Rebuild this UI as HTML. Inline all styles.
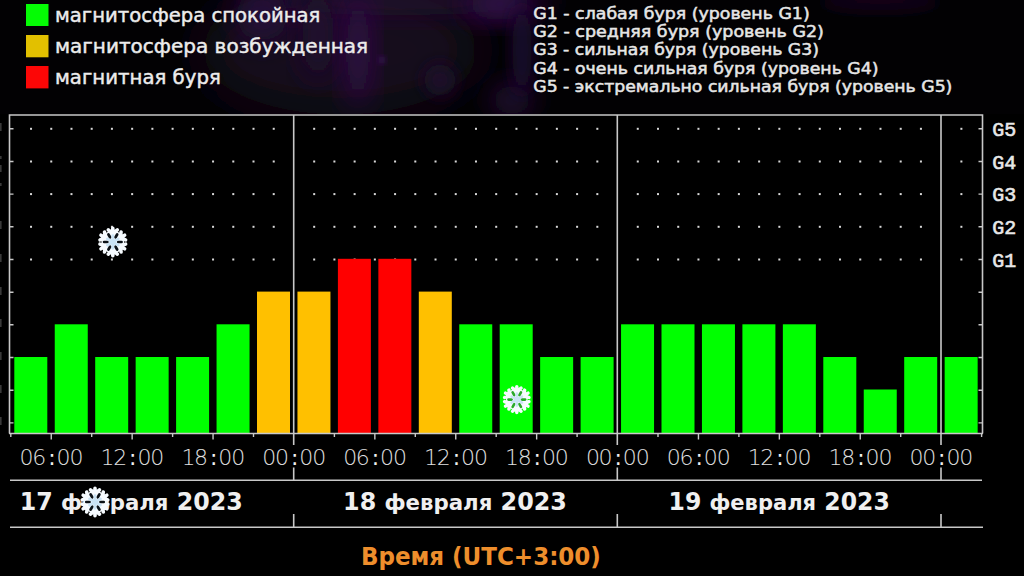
<!DOCTYPE html>
<html><head><meta charset="utf-8"><title>Магнитные бури</title>
<style>
html,body{margin:0;padding:0;background:#000;}
#wrap{position:relative;width:1024px;height:576px;overflow:hidden;background:#000;}
#bg{position:absolute;left:0;top:0;width:1024px;height:114px;background:#020103;}
svg{position:absolute;left:0;top:0;}
.lg{font-family:"DejaVu Sans",sans-serif;font-size:19.5px;fill:#ececec;stroke:#ececec;stroke-width:0.45px;}
.gs{font-family:"DejaVu Sans",sans-serif;font-size:15.6px;fill:#e6e6e6;stroke:#e6e6e6;stroke-width:0.5px;}
.tm{font-family:"DejaVu Sans",sans-serif;font-weight:200;font-size:22px;fill:#e0e0e0;text-anchor:middle;}
.cl{font-weight:normal;fill:#f0f0f0;}
.gl{font-family:"Liberation Mono",monospace;font-size:20px;fill:#e8e8e8;stroke:#e8e8e8;stroke-width:0.6px;}
.dt{font-family:"DejaVu Sans Condensed","DejaVu Sans",sans-serif;font-weight:bold;font-size:24.4px;fill:#f0f0f0;}
.dl{font-size:21.8px;}
.ut{font-family:"DejaVu Sans Condensed","DejaVu Sans",sans-serif;font-weight:bold;font-size:24.6px;fill:#ee8e2c;}
</style></head><body>
<div id="wrap">
<div id="bg"></div>
<svg id="neb" width="1024" height="114" viewBox="0 0 1024 114">
<defs>
<filter id="b8" x="-50%" y="-50%" width="200%" height="200%"><feGaussianBlur stdDeviation="8"/></filter>
<filter id="b14" x="-50%" y="-50%" width="200%" height="200%"><feGaussianBlur stdDeviation="14"/></filter>
<filter id="b25" x="-50%" y="-50%" width="200%" height="200%"><feGaussianBlur stdDeviation="25"/></filter>
<filter id="b3" x="-50%" y="-50%" width="200%" height="200%"><feGaussianBlur stdDeviation="3"/></filter>
</defs>
<ellipse cx="340" cy="50" rx="140" ry="65" fill="#16071f" filter="url(#b25)"/>
<ellipse cx="400" cy="2" rx="160" ry="14" fill="#22092f" filter="url(#b14)"/>
<ellipse cx="262" cy="15" rx="26" ry="26" fill="#280a3a" filter="url(#b14)"/>
<ellipse cx="318" cy="35" rx="16" ry="45" fill="#200830" filter="url(#b14)"/>
<ellipse cx="358" cy="50" rx="13" ry="58" fill="#300b48" filter="url(#b14)"/>
<ellipse cx="440" cy="80" rx="16" ry="16" fill="#1c0829" filter="url(#b8)"/>
<ellipse cx="500" cy="4" rx="34" ry="16" fill="#360e4e" filter="url(#b14)"/>
<ellipse cx="512" cy="100" rx="20" ry="16" fill="#2a0a3e" filter="url(#b14)"/>
<ellipse cx="522" cy="50" rx="10" ry="45" fill="#1e0730" filter="url(#b8)"/>
<ellipse cx="880" cy="0" rx="60" ry="10" fill="#16061f" filter="url(#b8)"/>
<circle cx="382" cy="60" r="3" fill="#44186a" filter="url(#b3)"/>
</svg>
<svg width="1024" height="576" viewBox="0 0 1024 576">
<rect x="26" y="4" width="22.5" height="22" fill="#04fc04"/>
<rect x="26" y="35" width="22.5" height="22.3" fill="#e2c000"/>
<rect x="26" y="66" width="22.5" height="22.4" fill="#fc0606"/>
<text id="L1" x="55.00" y="22.30" class="lg" textLength="265.35" lengthAdjust="spacingAndGlyphs">магнитосфера спокойная</text>
<text id="L2" x="55.00" y="53.10" class="lg" textLength="313.12" lengthAdjust="spacingAndGlyphs">магнитосфера возбужденная</text>
<text id="L3" x="55.00" y="84.20" class="lg" textLength="165.80" lengthAdjust="spacingAndGlyphs">магнитная буря</text>
<text id="G1" x="533.30" y="18.60" class="gs" textLength="276.40" lengthAdjust="spacingAndGlyphs">G1 - слабая буря (уровень G1)</text>
<text id="G2" x="533.30" y="37.10" class="gs" textLength="290.56" lengthAdjust="spacingAndGlyphs">G2 - средняя буря (уровень G2)</text>
<text id="G3" x="533.30" y="55.30" class="gs" textLength="285.55" lengthAdjust="spacingAndGlyphs">G3 - сильная буря (уровень G3)</text>
<text id="G4" x="533.30" y="73.80" class="gs" textLength="345.25" lengthAdjust="spacingAndGlyphs">G4 - очень сильная буря (уровень G4)</text>
<text id="G5" x="533.30" y="91.80" class="gs" textLength="419.04" lengthAdjust="spacingAndGlyphs">G5 - экстремально сильная буря (уровень G5)</text>
<rect x="8" y="114" width="976" height="320" fill="#000"/>
<rect x="30.03" y="127.80" width="2" height="2" fill="#d8d8d8"/><rect x="50.25" y="127.80" width="2" height="2" fill="#d8d8d8"/><rect x="70.48" y="127.80" width="2" height="2" fill="#d8d8d8"/><rect x="90.70" y="127.80" width="2" height="2" fill="#d8d8d8"/><rect x="110.92" y="127.80" width="2" height="2" fill="#d8d8d8"/><rect x="131.15" y="127.80" width="2" height="2" fill="#d8d8d8"/><rect x="151.38" y="127.80" width="2" height="2" fill="#d8d8d8"/><rect x="171.60" y="127.80" width="2" height="2" fill="#d8d8d8"/><rect x="191.83" y="127.80" width="2" height="2" fill="#d8d8d8"/><rect x="212.05" y="127.80" width="2" height="2" fill="#d8d8d8"/><rect x="232.28" y="127.80" width="2" height="2" fill="#d8d8d8"/><rect x="252.50" y="127.80" width="2" height="2" fill="#d8d8d8"/><rect x="272.73" y="127.80" width="2" height="2" fill="#d8d8d8"/><rect x="313.18" y="127.80" width="2" height="2" fill="#d8d8d8"/><rect x="333.40" y="127.80" width="2" height="2" fill="#d8d8d8"/><rect x="353.63" y="127.80" width="2" height="2" fill="#d8d8d8"/><rect x="373.85" y="127.80" width="2" height="2" fill="#d8d8d8"/><rect x="394.08" y="127.80" width="2" height="2" fill="#d8d8d8"/><rect x="414.30" y="127.80" width="2" height="2" fill="#d8d8d8"/><rect x="434.53" y="127.80" width="2" height="2" fill="#d8d8d8"/><rect x="454.75" y="127.80" width="2" height="2" fill="#d8d8d8"/><rect x="474.98" y="127.80" width="2" height="2" fill="#d8d8d8"/><rect x="495.20" y="127.80" width="2" height="2" fill="#d8d8d8"/><rect x="515.43" y="127.80" width="2" height="2" fill="#d8d8d8"/><rect x="535.65" y="127.80" width="2" height="2" fill="#d8d8d8"/><rect x="555.88" y="127.80" width="2" height="2" fill="#d8d8d8"/><rect x="576.10" y="127.80" width="2" height="2" fill="#d8d8d8"/><rect x="596.33" y="127.80" width="2" height="2" fill="#d8d8d8"/><rect x="636.77" y="127.80" width="2" height="2" fill="#d8d8d8"/><rect x="657.00" y="127.80" width="2" height="2" fill="#d8d8d8"/><rect x="677.23" y="127.80" width="2" height="2" fill="#d8d8d8"/><rect x="697.45" y="127.80" width="2" height="2" fill="#d8d8d8"/><rect x="717.67" y="127.80" width="2" height="2" fill="#d8d8d8"/><rect x="737.90" y="127.80" width="2" height="2" fill="#d8d8d8"/><rect x="758.12" y="127.80" width="2" height="2" fill="#d8d8d8"/><rect x="778.35" y="127.80" width="2" height="2" fill="#d8d8d8"/><rect x="798.58" y="127.80" width="2" height="2" fill="#d8d8d8"/><rect x="818.80" y="127.80" width="2" height="2" fill="#d8d8d8"/><rect x="839.02" y="127.80" width="2" height="2" fill="#d8d8d8"/><rect x="859.25" y="127.80" width="2" height="2" fill="#d8d8d8"/><rect x="879.48" y="127.80" width="2" height="2" fill="#d8d8d8"/><rect x="899.70" y="127.80" width="2" height="2" fill="#d8d8d8"/><rect x="919.93" y="127.80" width="2" height="2" fill="#d8d8d8"/><rect x="960.38" y="127.80" width="2" height="2" fill="#d8d8d8"/><rect x="30.03" y="160.50" width="2" height="2" fill="#d8d8d8"/><rect x="50.25" y="160.50" width="2" height="2" fill="#d8d8d8"/><rect x="70.48" y="160.50" width="2" height="2" fill="#d8d8d8"/><rect x="90.70" y="160.50" width="2" height="2" fill="#d8d8d8"/><rect x="110.92" y="160.50" width="2" height="2" fill="#d8d8d8"/><rect x="131.15" y="160.50" width="2" height="2" fill="#d8d8d8"/><rect x="151.38" y="160.50" width="2" height="2" fill="#d8d8d8"/><rect x="171.60" y="160.50" width="2" height="2" fill="#d8d8d8"/><rect x="191.83" y="160.50" width="2" height="2" fill="#d8d8d8"/><rect x="212.05" y="160.50" width="2" height="2" fill="#d8d8d8"/><rect x="232.28" y="160.50" width="2" height="2" fill="#d8d8d8"/><rect x="252.50" y="160.50" width="2" height="2" fill="#d8d8d8"/><rect x="272.73" y="160.50" width="2" height="2" fill="#d8d8d8"/><rect x="313.18" y="160.50" width="2" height="2" fill="#d8d8d8"/><rect x="333.40" y="160.50" width="2" height="2" fill="#d8d8d8"/><rect x="353.63" y="160.50" width="2" height="2" fill="#d8d8d8"/><rect x="373.85" y="160.50" width="2" height="2" fill="#d8d8d8"/><rect x="394.08" y="160.50" width="2" height="2" fill="#d8d8d8"/><rect x="414.30" y="160.50" width="2" height="2" fill="#d8d8d8"/><rect x="434.53" y="160.50" width="2" height="2" fill="#d8d8d8"/><rect x="454.75" y="160.50" width="2" height="2" fill="#d8d8d8"/><rect x="474.98" y="160.50" width="2" height="2" fill="#d8d8d8"/><rect x="495.20" y="160.50" width="2" height="2" fill="#d8d8d8"/><rect x="515.43" y="160.50" width="2" height="2" fill="#d8d8d8"/><rect x="535.65" y="160.50" width="2" height="2" fill="#d8d8d8"/><rect x="555.88" y="160.50" width="2" height="2" fill="#d8d8d8"/><rect x="576.10" y="160.50" width="2" height="2" fill="#d8d8d8"/><rect x="596.33" y="160.50" width="2" height="2" fill="#d8d8d8"/><rect x="636.77" y="160.50" width="2" height="2" fill="#d8d8d8"/><rect x="657.00" y="160.50" width="2" height="2" fill="#d8d8d8"/><rect x="677.23" y="160.50" width="2" height="2" fill="#d8d8d8"/><rect x="697.45" y="160.50" width="2" height="2" fill="#d8d8d8"/><rect x="717.67" y="160.50" width="2" height="2" fill="#d8d8d8"/><rect x="737.90" y="160.50" width="2" height="2" fill="#d8d8d8"/><rect x="758.12" y="160.50" width="2" height="2" fill="#d8d8d8"/><rect x="778.35" y="160.50" width="2" height="2" fill="#d8d8d8"/><rect x="798.58" y="160.50" width="2" height="2" fill="#d8d8d8"/><rect x="818.80" y="160.50" width="2" height="2" fill="#d8d8d8"/><rect x="839.02" y="160.50" width="2" height="2" fill="#d8d8d8"/><rect x="859.25" y="160.50" width="2" height="2" fill="#d8d8d8"/><rect x="879.48" y="160.50" width="2" height="2" fill="#d8d8d8"/><rect x="899.70" y="160.50" width="2" height="2" fill="#d8d8d8"/><rect x="919.93" y="160.50" width="2" height="2" fill="#d8d8d8"/><rect x="960.38" y="160.50" width="2" height="2" fill="#d8d8d8"/><rect x="30.03" y="193.10" width="2" height="2" fill="#d8d8d8"/><rect x="50.25" y="193.10" width="2" height="2" fill="#d8d8d8"/><rect x="70.48" y="193.10" width="2" height="2" fill="#d8d8d8"/><rect x="90.70" y="193.10" width="2" height="2" fill="#d8d8d8"/><rect x="110.92" y="193.10" width="2" height="2" fill="#d8d8d8"/><rect x="131.15" y="193.10" width="2" height="2" fill="#d8d8d8"/><rect x="151.38" y="193.10" width="2" height="2" fill="#d8d8d8"/><rect x="171.60" y="193.10" width="2" height="2" fill="#d8d8d8"/><rect x="191.83" y="193.10" width="2" height="2" fill="#d8d8d8"/><rect x="212.05" y="193.10" width="2" height="2" fill="#d8d8d8"/><rect x="232.28" y="193.10" width="2" height="2" fill="#d8d8d8"/><rect x="252.50" y="193.10" width="2" height="2" fill="#d8d8d8"/><rect x="272.73" y="193.10" width="2" height="2" fill="#d8d8d8"/><rect x="313.18" y="193.10" width="2" height="2" fill="#d8d8d8"/><rect x="333.40" y="193.10" width="2" height="2" fill="#d8d8d8"/><rect x="353.63" y="193.10" width="2" height="2" fill="#d8d8d8"/><rect x="373.85" y="193.10" width="2" height="2" fill="#d8d8d8"/><rect x="394.08" y="193.10" width="2" height="2" fill="#d8d8d8"/><rect x="414.30" y="193.10" width="2" height="2" fill="#d8d8d8"/><rect x="434.53" y="193.10" width="2" height="2" fill="#d8d8d8"/><rect x="454.75" y="193.10" width="2" height="2" fill="#d8d8d8"/><rect x="474.98" y="193.10" width="2" height="2" fill="#d8d8d8"/><rect x="495.20" y="193.10" width="2" height="2" fill="#d8d8d8"/><rect x="515.43" y="193.10" width="2" height="2" fill="#d8d8d8"/><rect x="535.65" y="193.10" width="2" height="2" fill="#d8d8d8"/><rect x="555.88" y="193.10" width="2" height="2" fill="#d8d8d8"/><rect x="576.10" y="193.10" width="2" height="2" fill="#d8d8d8"/><rect x="596.33" y="193.10" width="2" height="2" fill="#d8d8d8"/><rect x="636.77" y="193.10" width="2" height="2" fill="#d8d8d8"/><rect x="657.00" y="193.10" width="2" height="2" fill="#d8d8d8"/><rect x="677.23" y="193.10" width="2" height="2" fill="#d8d8d8"/><rect x="697.45" y="193.10" width="2" height="2" fill="#d8d8d8"/><rect x="717.67" y="193.10" width="2" height="2" fill="#d8d8d8"/><rect x="737.90" y="193.10" width="2" height="2" fill="#d8d8d8"/><rect x="758.12" y="193.10" width="2" height="2" fill="#d8d8d8"/><rect x="778.35" y="193.10" width="2" height="2" fill="#d8d8d8"/><rect x="798.58" y="193.10" width="2" height="2" fill="#d8d8d8"/><rect x="818.80" y="193.10" width="2" height="2" fill="#d8d8d8"/><rect x="839.02" y="193.10" width="2" height="2" fill="#d8d8d8"/><rect x="859.25" y="193.10" width="2" height="2" fill="#d8d8d8"/><rect x="879.48" y="193.10" width="2" height="2" fill="#d8d8d8"/><rect x="899.70" y="193.10" width="2" height="2" fill="#d8d8d8"/><rect x="919.93" y="193.10" width="2" height="2" fill="#d8d8d8"/><rect x="960.38" y="193.10" width="2" height="2" fill="#d8d8d8"/><rect x="30.03" y="225.80" width="2" height="2" fill="#d8d8d8"/><rect x="50.25" y="225.80" width="2" height="2" fill="#d8d8d8"/><rect x="70.48" y="225.80" width="2" height="2" fill="#d8d8d8"/><rect x="90.70" y="225.80" width="2" height="2" fill="#d8d8d8"/><rect x="110.92" y="225.80" width="2" height="2" fill="#d8d8d8"/><rect x="131.15" y="225.80" width="2" height="2" fill="#d8d8d8"/><rect x="151.38" y="225.80" width="2" height="2" fill="#d8d8d8"/><rect x="171.60" y="225.80" width="2" height="2" fill="#d8d8d8"/><rect x="191.83" y="225.80" width="2" height="2" fill="#d8d8d8"/><rect x="212.05" y="225.80" width="2" height="2" fill="#d8d8d8"/><rect x="232.28" y="225.80" width="2" height="2" fill="#d8d8d8"/><rect x="252.50" y="225.80" width="2" height="2" fill="#d8d8d8"/><rect x="272.73" y="225.80" width="2" height="2" fill="#d8d8d8"/><rect x="313.18" y="225.80" width="2" height="2" fill="#d8d8d8"/><rect x="333.40" y="225.80" width="2" height="2" fill="#d8d8d8"/><rect x="353.63" y="225.80" width="2" height="2" fill="#d8d8d8"/><rect x="373.85" y="225.80" width="2" height="2" fill="#d8d8d8"/><rect x="394.08" y="225.80" width="2" height="2" fill="#d8d8d8"/><rect x="414.30" y="225.80" width="2" height="2" fill="#d8d8d8"/><rect x="434.53" y="225.80" width="2" height="2" fill="#d8d8d8"/><rect x="454.75" y="225.80" width="2" height="2" fill="#d8d8d8"/><rect x="474.98" y="225.80" width="2" height="2" fill="#d8d8d8"/><rect x="495.20" y="225.80" width="2" height="2" fill="#d8d8d8"/><rect x="515.43" y="225.80" width="2" height="2" fill="#d8d8d8"/><rect x="535.65" y="225.80" width="2" height="2" fill="#d8d8d8"/><rect x="555.88" y="225.80" width="2" height="2" fill="#d8d8d8"/><rect x="576.10" y="225.80" width="2" height="2" fill="#d8d8d8"/><rect x="596.33" y="225.80" width="2" height="2" fill="#d8d8d8"/><rect x="636.77" y="225.80" width="2" height="2" fill="#d8d8d8"/><rect x="657.00" y="225.80" width="2" height="2" fill="#d8d8d8"/><rect x="677.23" y="225.80" width="2" height="2" fill="#d8d8d8"/><rect x="697.45" y="225.80" width="2" height="2" fill="#d8d8d8"/><rect x="717.67" y="225.80" width="2" height="2" fill="#d8d8d8"/><rect x="737.90" y="225.80" width="2" height="2" fill="#d8d8d8"/><rect x="758.12" y="225.80" width="2" height="2" fill="#d8d8d8"/><rect x="778.35" y="225.80" width="2" height="2" fill="#d8d8d8"/><rect x="798.58" y="225.80" width="2" height="2" fill="#d8d8d8"/><rect x="818.80" y="225.80" width="2" height="2" fill="#d8d8d8"/><rect x="839.02" y="225.80" width="2" height="2" fill="#d8d8d8"/><rect x="859.25" y="225.80" width="2" height="2" fill="#d8d8d8"/><rect x="879.48" y="225.80" width="2" height="2" fill="#d8d8d8"/><rect x="899.70" y="225.80" width="2" height="2" fill="#d8d8d8"/><rect x="919.93" y="225.80" width="2" height="2" fill="#d8d8d8"/><rect x="960.38" y="225.80" width="2" height="2" fill="#d8d8d8"/><rect x="30.03" y="258.50" width="2" height="2" fill="#d8d8d8"/><rect x="50.25" y="258.50" width="2" height="2" fill="#d8d8d8"/><rect x="70.48" y="258.50" width="2" height="2" fill="#d8d8d8"/><rect x="90.70" y="258.50" width="2" height="2" fill="#d8d8d8"/><rect x="110.92" y="258.50" width="2" height="2" fill="#d8d8d8"/><rect x="131.15" y="258.50" width="2" height="2" fill="#d8d8d8"/><rect x="151.38" y="258.50" width="2" height="2" fill="#d8d8d8"/><rect x="171.60" y="258.50" width="2" height="2" fill="#d8d8d8"/><rect x="191.83" y="258.50" width="2" height="2" fill="#d8d8d8"/><rect x="212.05" y="258.50" width="2" height="2" fill="#d8d8d8"/><rect x="232.28" y="258.50" width="2" height="2" fill="#d8d8d8"/><rect x="252.50" y="258.50" width="2" height="2" fill="#d8d8d8"/><rect x="272.73" y="258.50" width="2" height="2" fill="#d8d8d8"/><rect x="313.18" y="258.50" width="2" height="2" fill="#d8d8d8"/><rect x="333.40" y="258.50" width="2" height="2" fill="#d8d8d8"/><rect x="353.63" y="258.50" width="2" height="2" fill="#d8d8d8"/><rect x="373.85" y="258.50" width="2" height="2" fill="#d8d8d8"/><rect x="394.08" y="258.50" width="2" height="2" fill="#d8d8d8"/><rect x="414.30" y="258.50" width="2" height="2" fill="#d8d8d8"/><rect x="434.53" y="258.50" width="2" height="2" fill="#d8d8d8"/><rect x="454.75" y="258.50" width="2" height="2" fill="#d8d8d8"/><rect x="474.98" y="258.50" width="2" height="2" fill="#d8d8d8"/><rect x="495.20" y="258.50" width="2" height="2" fill="#d8d8d8"/><rect x="515.43" y="258.50" width="2" height="2" fill="#d8d8d8"/><rect x="535.65" y="258.50" width="2" height="2" fill="#d8d8d8"/><rect x="555.88" y="258.50" width="2" height="2" fill="#d8d8d8"/><rect x="576.10" y="258.50" width="2" height="2" fill="#d8d8d8"/><rect x="596.33" y="258.50" width="2" height="2" fill="#d8d8d8"/><rect x="636.77" y="258.50" width="2" height="2" fill="#d8d8d8"/><rect x="657.00" y="258.50" width="2" height="2" fill="#d8d8d8"/><rect x="677.23" y="258.50" width="2" height="2" fill="#d8d8d8"/><rect x="697.45" y="258.50" width="2" height="2" fill="#d8d8d8"/><rect x="717.67" y="258.50" width="2" height="2" fill="#d8d8d8"/><rect x="737.90" y="258.50" width="2" height="2" fill="#d8d8d8"/><rect x="758.12" y="258.50" width="2" height="2" fill="#d8d8d8"/><rect x="778.35" y="258.50" width="2" height="2" fill="#d8d8d8"/><rect x="798.58" y="258.50" width="2" height="2" fill="#d8d8d8"/><rect x="818.80" y="258.50" width="2" height="2" fill="#d8d8d8"/><rect x="839.02" y="258.50" width="2" height="2" fill="#d8d8d8"/><rect x="859.25" y="258.50" width="2" height="2" fill="#d8d8d8"/><rect x="879.48" y="258.50" width="2" height="2" fill="#d8d8d8"/><rect x="899.70" y="258.50" width="2" height="2" fill="#d8d8d8"/><rect x="919.93" y="258.50" width="2" height="2" fill="#d8d8d8"/><rect x="960.38" y="258.50" width="2" height="2" fill="#d8d8d8"/><rect x="0" y="123" width="1.6" height="8" fill="#3a3a3a"/><rect x="0" y="156" width="1.6" height="3" fill="#3a3a3a"/><rect x="0" y="165" width="1.6" height="7" fill="#3a3a3a"/><rect x="0" y="183" width="1.6" height="3" fill="#3a3a3a"/><rect x="0" y="221" width="1.6" height="8" fill="#3a3a3a"/><rect x="0" y="254" width="1.6" height="8" fill="#3a3a3a"/><rect x="0" y="287" width="1.6" height="8" fill="#3a3a3a"/><rect x="0" y="319" width="1.6" height="8" fill="#3a3a3a"/><rect x="0" y="352" width="1.6" height="8" fill="#3a3a3a"/><rect x="0" y="385" width="1.6" height="8" fill="#3a3a3a"/><rect x="0" y="417" width="1.6" height="8" fill="#3a3a3a"/><rect x="14.30" y="357.00" width="33" height="76.50" fill="#00ff00"/><rect x="54.75" y="324.30" width="33" height="109.20" fill="#00ff00"/><rect x="95.20" y="357.00" width="33" height="76.50" fill="#00ff00"/><rect x="135.65" y="357.00" width="33" height="76.50" fill="#00ff00"/><rect x="176.10" y="357.00" width="33" height="76.50" fill="#00ff00"/><rect x="216.55" y="324.30" width="33" height="109.20" fill="#00ff00"/><rect x="257.00" y="291.60" width="33" height="141.90" fill="#ffc000"/><rect x="297.45" y="291.60" width="33" height="141.90" fill="#ffc000"/><rect x="337.90" y="258.80" width="33" height="174.70" fill="#ff0000"/><rect x="378.35" y="258.80" width="33" height="174.70" fill="#ff0000"/><rect x="418.80" y="291.60" width="33" height="141.90" fill="#ffc000"/><rect x="459.25" y="324.30" width="33" height="109.20" fill="#00ff00"/><rect x="499.70" y="324.30" width="33" height="109.20" fill="#00ff00"/><rect x="540.15" y="357.00" width="33" height="76.50" fill="#00ff00"/><rect x="580.60" y="357.00" width="33" height="76.50" fill="#00ff00"/><rect x="621.05" y="324.30" width="33" height="109.20" fill="#00ff00"/><rect x="661.50" y="324.30" width="33" height="109.20" fill="#00ff00"/><rect x="701.95" y="324.30" width="33" height="109.20" fill="#00ff00"/><rect x="742.40" y="324.30" width="33" height="109.20" fill="#00ff00"/><rect x="782.85" y="324.30" width="33" height="109.20" fill="#00ff00"/><rect x="823.30" y="357.00" width="33" height="76.50" fill="#00ff00"/><rect x="863.75" y="389.50" width="33" height="44.00" fill="#00ff00"/><rect x="904.20" y="357.00" width="33" height="76.50" fill="#00ff00"/><rect x="944.65" y="357.00" width="33" height="76.50" fill="#00ff00"/><path d="M9.5 433.5 V115 H982.5 V433.5 M9 433.5 H983" stroke="#c8c8c8" stroke-width="1.6" fill="none"/><path d="M293.7 115 V445 M293.7 467.5 V480 M293.7 514 V527" stroke="#c8c8c8" stroke-width="1.6" fill="none"/><path d="M617.3 115 V445 M617.3 467.5 V480 M617.3 514 V527" stroke="#c8c8c8" stroke-width="1.6" fill="none"/><path d="M941.0 115 V445 M941.0 467.5 V480 M941.0 514 V527" stroke="#c8c8c8" stroke-width="1.6" fill="none"/><path d="M9.5 128.8 H13.5 M978.5 128.8 H982.5" stroke="#c8c8c8" stroke-width="1.4"/><path d="M9.5 161.5 H13.5 M978.5 161.5 H982.5" stroke="#c8c8c8" stroke-width="1.4"/><path d="M9.5 194.1 H13.5 M978.5 194.1 H982.5" stroke="#c8c8c8" stroke-width="1.4"/><path d="M9.5 226.8 H13.5 M978.5 226.8 H982.5" stroke="#c8c8c8" stroke-width="1.4"/><path d="M9.5 259.5 H13.5 M978.5 259.5 H982.5" stroke="#c8c8c8" stroke-width="1.4"/><path d="M9.5 292.2 H13.5 M978.5 292.2 H982.5" stroke="#c8c8c8" stroke-width="1.4"/><path d="M9.5 324.8 H13.5 M978.5 324.8 H982.5" stroke="#c8c8c8" stroke-width="1.4"/><path d="M9.5 357.5 H13.5 M978.5 357.5 H982.5" stroke="#c8c8c8" stroke-width="1.4"/><path d="M9.5 390.2 H13.5 M978.5 390.2 H982.5" stroke="#c8c8c8" stroke-width="1.4"/><path d="M9.5 422.9 H13.5 M978.5 422.9 H982.5" stroke="#c8c8c8" stroke-width="1.4"/><path d="M10.80 433.5 V437.0" stroke="#c8c8c8" stroke-width="1.4"/><path d="M51.25 433.5 V439.5" stroke="#c8c8c8" stroke-width="1.4"/><path d="M91.70 433.5 V437.0" stroke="#c8c8c8" stroke-width="1.4"/><path d="M132.15 433.5 V439.5" stroke="#c8c8c8" stroke-width="1.4"/><path d="M172.60 433.5 V437.0" stroke="#c8c8c8" stroke-width="1.4"/><path d="M213.05 433.5 V439.5" stroke="#c8c8c8" stroke-width="1.4"/><path d="M253.50 433.5 V437.0" stroke="#c8c8c8" stroke-width="1.4"/><path d="M334.40 433.5 V437.0" stroke="#c8c8c8" stroke-width="1.4"/><path d="M374.85 433.5 V439.5" stroke="#c8c8c8" stroke-width="1.4"/><path d="M415.30 433.5 V437.0" stroke="#c8c8c8" stroke-width="1.4"/><path d="M455.75 433.5 V439.5" stroke="#c8c8c8" stroke-width="1.4"/><path d="M496.20 433.5 V437.0" stroke="#c8c8c8" stroke-width="1.4"/><path d="M536.65 433.5 V439.5" stroke="#c8c8c8" stroke-width="1.4"/><path d="M577.10 433.5 V437.0" stroke="#c8c8c8" stroke-width="1.4"/><path d="M658.00 433.5 V437.0" stroke="#c8c8c8" stroke-width="1.4"/><path d="M698.45 433.5 V439.5" stroke="#c8c8c8" stroke-width="1.4"/><path d="M738.90 433.5 V437.0" stroke="#c8c8c8" stroke-width="1.4"/><path d="M779.35 433.5 V439.5" stroke="#c8c8c8" stroke-width="1.4"/><path d="M819.80 433.5 V437.0" stroke="#c8c8c8" stroke-width="1.4"/><path d="M860.25 433.5 V439.5" stroke="#c8c8c8" stroke-width="1.4"/><path d="M900.70 433.5 V437.0" stroke="#c8c8c8" stroke-width="1.4"/><path d="M981.60 433.5 V437.0" stroke="#c8c8c8" stroke-width="1.4"/><path d="M10 480.3 H982 M10 527.3 H983" stroke="#c8c8c8" stroke-width="1.6"/>
<text id="T0" x="26.60 39.25 51.90 63.50 76.45" y="464.50" class="tm">06<tspan class="cl">:</tspan>00</text>
<text id="T1" x="107.50 120.15 132.80 144.40 157.35" y="464.50" class="tm">12<tspan class="cl">:</tspan>00</text>
<text id="T2" x="188.40 201.05 213.70 225.30 238.25" y="464.50" class="tm">18<tspan class="cl">:</tspan>00</text>
<text id="T3" x="269.30 281.95 294.60 306.20 319.15" y="464.50" class="tm">00<tspan class="cl">:</tspan>00</text>
<text id="T4" x="350.20 362.85 375.50 387.10 400.05" y="464.50" class="tm">06<tspan class="cl">:</tspan>00</text>
<text id="T5" x="431.10 443.75 456.40 468.00 480.95" y="464.50" class="tm">12<tspan class="cl">:</tspan>00</text>
<text id="T6" x="512.00 524.65 537.30 548.90 561.85" y="464.50" class="tm">18<tspan class="cl">:</tspan>00</text>
<text id="T7" x="592.90 605.55 618.20 629.80 642.75" y="464.50" class="tm">00<tspan class="cl">:</tspan>00</text>
<text id="T8" x="673.80 686.45 699.10 710.70 723.65" y="464.50" class="tm">06<tspan class="cl">:</tspan>00</text>
<text id="T9" x="754.70 767.35 780.00 791.60 804.55" y="464.50" class="tm">12<tspan class="cl">:</tspan>00</text>
<text id="T10" x="835.60 848.25 860.90 872.50 885.45" y="464.50" class="tm">18<tspan class="cl">:</tspan>00</text>
<text id="T11" x="916.50 929.15 941.80 953.40 966.35" y="464.50" class="tm">00<tspan class="cl">:</tspan>00</text>
<text id="R0" x="992.20" y="135.80" class="gl" textLength="24.02" lengthAdjust="spacingAndGlyphs">G5</text>
<text id="R1" x="992.20" y="168.50" class="gl" textLength="24.02" lengthAdjust="spacingAndGlyphs">G4</text>
<text id="R2" x="992.20" y="201.20" class="gl" textLength="24.02" lengthAdjust="spacingAndGlyphs">G3</text>
<text id="R3" x="992.20" y="233.90" class="gl" textLength="24.02" lengthAdjust="spacingAndGlyphs">G2</text>
<text id="R4" x="992.20" y="266.60" class="gl" textLength="24.02" lengthAdjust="spacingAndGlyphs">G1</text>
<text id="D1" x="19.80" y="510.40" class="dt" textLength="222.90" lengthAdjust="spacingAndGlyphs">17 <tspan class="dl">февраля</tspan> 2023</text>
<text id="D2" x="343.10" y="510.40" class="dt" textLength="223.80" lengthAdjust="spacingAndGlyphs">18 <tspan class="dl">февраля</tspan> 2023</text>
<text id="D3" x="668.50" y="510.40" class="dt" textLength="221.30" lengthAdjust="spacingAndGlyphs">19 <tspan class="dl">февраля</tspan> 2023</text>
<text id="UT" x="360.90" y="565.30" class="ut" textLength="240.00" lengthAdjust="spacingAndGlyphs">Время (UTC+3:00)</text>
<g transform="translate(112.8 242) scale(1.05)"><polygon points="0,-12.5 10.8,-6.25 10.8,6.25 0,12.5 -10.8,6.25 -10.8,-6.25" fill="#f6fbff"/><g stroke="#f6fbff" stroke-width="3.4" stroke-linecap="round" fill="none"><path transform="rotate(0)" d="M0 0 V-13 M0 -8 L-4.3 -11.6 M0 -8 L4.3 -11.6 M0 -4.5 L-3.8 -7.6 M0 -4.5 L3.8 -7.6"/><path transform="rotate(60)" d="M0 0 V-13 M0 -8 L-4.3 -11.6 M0 -8 L4.3 -11.6 M0 -4.5 L-3.8 -7.6 M0 -4.5 L3.8 -7.6"/><path transform="rotate(120)" d="M0 0 V-13 M0 -8 L-4.3 -11.6 M0 -8 L4.3 -11.6 M0 -4.5 L-3.8 -7.6 M0 -4.5 L3.8 -7.6"/><path transform="rotate(180)" d="M0 0 V-13 M0 -8 L-4.3 -11.6 M0 -8 L4.3 -11.6 M0 -4.5 L-3.8 -7.6 M0 -4.5 L3.8 -7.6"/><path transform="rotate(240)" d="M0 0 V-13 M0 -8 L-4.3 -11.6 M0 -8 L4.3 -11.6 M0 -4.5 L-3.8 -7.6 M0 -4.5 L3.8 -7.6"/><path transform="rotate(300)" d="M0 0 V-13 M0 -8 L-4.3 -11.6 M0 -8 L4.3 -11.6 M0 -4.5 L-3.8 -7.6 M0 -4.5 L3.8 -7.6"/></g><g stroke="#0b1218" stroke-width="2.6" stroke-linecap="round" fill="none"><path transform="rotate(30)" d="M0 -5.2 V-8.3"/><path transform="rotate(90)" d="M0 -5.2 V-8.3"/><path transform="rotate(150)" d="M0 -5.2 V-8.3"/><path transform="rotate(210)" d="M0 -5.2 V-8.3"/><path transform="rotate(270)" d="M0 -5.2 V-8.3"/><path transform="rotate(330)" d="M0 -5.2 V-8.3"/></g><g stroke="#c9e3f5" stroke-width="2.6" stroke-linecap="round" fill="none"><path transform="rotate(0)" d="M0 0 V-6"/><path transform="rotate(60)" d="M0 0 V-6"/><path transform="rotate(120)" d="M0 0 V-6"/><path transform="rotate(180)" d="M0 0 V-6"/><path transform="rotate(240)" d="M0 0 V-6"/><path transform="rotate(300)" d="M0 0 V-6"/></g><circle r="2.8" fill="#c9e3f5"/></g>
<g transform="translate(516.8 399.6) scale(1.0)"><polygon points="0,-12.5 10.8,-6.25 10.8,6.25 0,12.5 -10.8,6.25 -10.8,-6.25" fill="#f6fbff"/><g stroke="#f6fbff" stroke-width="3.4" stroke-linecap="round" fill="none"><path transform="rotate(0)" d="M0 0 V-13 M0 -8 L-4.3 -11.6 M0 -8 L4.3 -11.6 M0 -4.5 L-3.8 -7.6 M0 -4.5 L3.8 -7.6"/><path transform="rotate(60)" d="M0 0 V-13 M0 -8 L-4.3 -11.6 M0 -8 L4.3 -11.6 M0 -4.5 L-3.8 -7.6 M0 -4.5 L3.8 -7.6"/><path transform="rotate(120)" d="M0 0 V-13 M0 -8 L-4.3 -11.6 M0 -8 L4.3 -11.6 M0 -4.5 L-3.8 -7.6 M0 -4.5 L3.8 -7.6"/><path transform="rotate(180)" d="M0 0 V-13 M0 -8 L-4.3 -11.6 M0 -8 L4.3 -11.6 M0 -4.5 L-3.8 -7.6 M0 -4.5 L3.8 -7.6"/><path transform="rotate(240)" d="M0 0 V-13 M0 -8 L-4.3 -11.6 M0 -8 L4.3 -11.6 M0 -4.5 L-3.8 -7.6 M0 -4.5 L3.8 -7.6"/><path transform="rotate(300)" d="M0 0 V-13 M0 -8 L-4.3 -11.6 M0 -8 L4.3 -11.6 M0 -4.5 L-3.8 -7.6 M0 -4.5 L3.8 -7.6"/></g><g stroke="#2aaa2a" stroke-width="2.6" stroke-linecap="round" fill="none"><path transform="rotate(30)" d="M0 -5.2 V-8.3"/><path transform="rotate(90)" d="M0 -5.2 V-8.3"/><path transform="rotate(150)" d="M0 -5.2 V-8.3"/><path transform="rotate(210)" d="M0 -5.2 V-8.3"/><path transform="rotate(270)" d="M0 -5.2 V-8.3"/><path transform="rotate(330)" d="M0 -5.2 V-8.3"/></g><g stroke="#c9e3f5" stroke-width="2.6" stroke-linecap="round" fill="none"><path transform="rotate(0)" d="M0 0 V-6"/><path transform="rotate(60)" d="M0 0 V-6"/><path transform="rotate(120)" d="M0 0 V-6"/><path transform="rotate(180)" d="M0 0 V-6"/><path transform="rotate(240)" d="M0 0 V-6"/><path transform="rotate(300)" d="M0 0 V-6"/></g><circle r="2.8" fill="#c9e3f5"/></g>
<g transform="translate(95 502) scale(1.05)"><polygon points="0,-12.5 10.8,-6.25 10.8,6.25 0,12.5 -10.8,6.25 -10.8,-6.25" fill="#f6fbff"/><g stroke="#f6fbff" stroke-width="3.4" stroke-linecap="round" fill="none"><path transform="rotate(0)" d="M0 0 V-13 M0 -8 L-4.3 -11.6 M0 -8 L4.3 -11.6 M0 -4.5 L-3.8 -7.6 M0 -4.5 L3.8 -7.6"/><path transform="rotate(60)" d="M0 0 V-13 M0 -8 L-4.3 -11.6 M0 -8 L4.3 -11.6 M0 -4.5 L-3.8 -7.6 M0 -4.5 L3.8 -7.6"/><path transform="rotate(120)" d="M0 0 V-13 M0 -8 L-4.3 -11.6 M0 -8 L4.3 -11.6 M0 -4.5 L-3.8 -7.6 M0 -4.5 L3.8 -7.6"/><path transform="rotate(180)" d="M0 0 V-13 M0 -8 L-4.3 -11.6 M0 -8 L4.3 -11.6 M0 -4.5 L-3.8 -7.6 M0 -4.5 L3.8 -7.6"/><path transform="rotate(240)" d="M0 0 V-13 M0 -8 L-4.3 -11.6 M0 -8 L4.3 -11.6 M0 -4.5 L-3.8 -7.6 M0 -4.5 L3.8 -7.6"/><path transform="rotate(300)" d="M0 0 V-13 M0 -8 L-4.3 -11.6 M0 -8 L4.3 -11.6 M0 -4.5 L-3.8 -7.6 M0 -4.5 L3.8 -7.6"/></g><g stroke="#0b1218" stroke-width="2.6" stroke-linecap="round" fill="none"><path transform="rotate(30)" d="M0 -5.2 V-8.3"/><path transform="rotate(90)" d="M0 -5.2 V-8.3"/><path transform="rotate(150)" d="M0 -5.2 V-8.3"/><path transform="rotate(210)" d="M0 -5.2 V-8.3"/><path transform="rotate(270)" d="M0 -5.2 V-8.3"/><path transform="rotate(330)" d="M0 -5.2 V-8.3"/></g><g stroke="#c9e3f5" stroke-width="2.6" stroke-linecap="round" fill="none"><path transform="rotate(0)" d="M0 0 V-6"/><path transform="rotate(60)" d="M0 0 V-6"/><path transform="rotate(120)" d="M0 0 V-6"/><path transform="rotate(180)" d="M0 0 V-6"/><path transform="rotate(240)" d="M0 0 V-6"/><path transform="rotate(300)" d="M0 0 V-6"/></g><circle r="2.8" fill="#c9e3f5"/></g>
</svg>
</div>
</body></html>
